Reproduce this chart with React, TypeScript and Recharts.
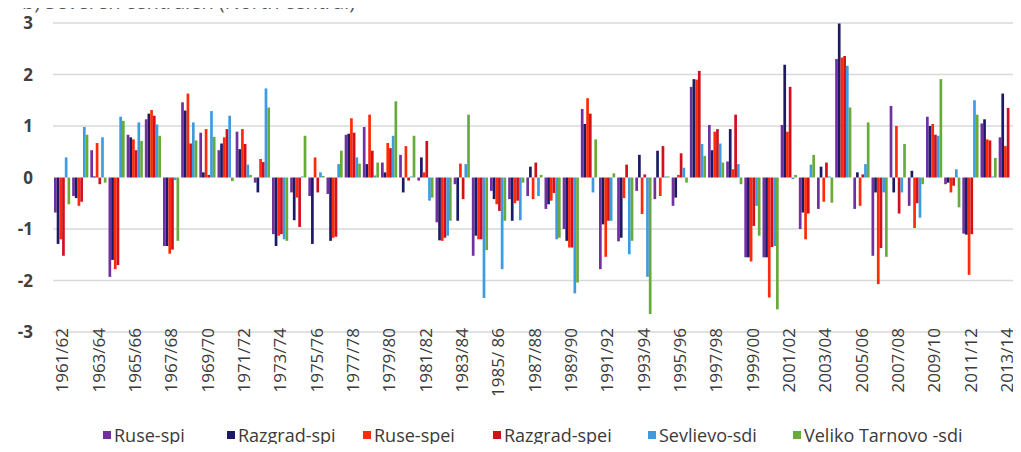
import { BarChart, Bar, XAxis, YAxis, CartesianGrid } from "recharts";

const seasons = [
  "1961/62", "1962/63", "1963/64", "1964/65", "1965/66", "1966/67", "1967/68", "1968/69",
  "1969/70", "1970/71", "1971/72", "1972/73", "1973/74", "1974/75", "1975/76", "1976/77",
  "1977/78", "1978/79", "1979/80", "1980/81", "1981/82", "1982/83", "1983/84", "1984/85",
  "1985/ 86", "1986/87", "1987/88", "1988/89", "1989/90", "1990/91", "1991/92", "1992/93",
  "1993/94", "1994/95", "1995/96", "1996/97", "1997/98", "1998/99", "1999/00", "2000/01",
  "2001/02", "2002/03", "2003/04", "2004/05", "2005/06", "2006/07", "2007/08", "2008/09",
  "2009/10", "2010/11", "2011/12", "2012/13", "2013/14", "2014/15",
];

const ruseSpi = [
  -0.68, -0.36, 0.53, -1.93, 0.83, 1.13, -1.33, 1.46, 0.87, 0.53, 0.89, -0.1, -1.1, -0.29,
  -0.36, -0.32, 0.83, 0.98, 0.29, 0.44, -0.06, -0.87, -0.13, -1.52, -0.26, -0.42, -0.36,
  -0.61, -1.0, 1.33, -1.78, -1.24, -0.26, -0.42, -0.55, 1.76, 1.02, 0.31, -1.55, -1.55,
  1.02, -1.0, -0.61, 2.3, -0.61, -1.52, 1.39, -0.55, 1.18, -0.13, -1.09, 1.05, 0.78, 1.77,
];

const razgradSpi = [
  -1.29, -0.4, 0.02, -1.6, 0.78, 1.24, -1.33, 1.3, 0.1, 0.66, 0.55, -0.29, -1.33, -0.83,
  -1.29, -1.23, 0.85, 0.26, 0.1, -0.29, 0.39, -1.22, -0.84, -1.13, -0.42, -0.84, 0.21,
  -0.52, -1.23, 1.04, -0.91, -1.17, 0.44, 0.52, -0.39, 1.91, 0.53, 0.94, -1.55, -1.55,
  2.19, -0.68, 0.21, 2.99, 0.1, -0.29, -0.29, 0.13, 1.0, -0.1, -1.11, 1.13, 1.63, 1.4,
];

const ruseSpei = [
  -1.2, -0.55, 0.67, -1.78, 0.74, 1.31, -1.48, 1.63, 0.94, 0.78, 0.94, 0.36, -1.13, -0.39,
  0.39, -1.17, 1.15, 1.22, 0.67, 0.61, 0.1, -1.23, 0.27, -1.2, -0.52, -0.5, -0.42, -0.45,
  -1.36, 1.54, -1.54, -0.4, -0.71, -0.36, 0.05, 1.9, 0.89, 0.16, -1.63, -2.33, 0.89, -1.2,
  -0.47, 2.33, -0.55, -2.07, 1.0, -0.98, 1.04, -0.29, -1.89, 0.74, 0.61, 1.5,
];

const razgradSpei = [
  -1.52, -0.47, -0.13, -1.7, 0.53, 1.2, -1.4, 0.66, 0.05, 0.94, 0.65, 0.3, -1.1, -0.96,
  -0.29, -1.15, 0.87, 0.52, 0.57, -0.06, 0.71, -1.17, -0.42, -1.2, -0.65, -0.45, 0.29,
  -0.3, -1.36, 1.24, -0.84, 0.25, 0.06, 0.61, 0.47, 2.07, 0.94, 1.22, -0.94, -1.35, 1.76,
  -0.7, 0.29, 2.36, 0.06, -1.37, -0.7, -0.5, 0.83, -0.16, -1.1, 0.72, 1.35, 1.3,
];

const sevlievoSdi = [
  0.39, 0.98, 0.78, 1.18, 1.07, 1.03, -0.05, 1.07, 1.29, 1.2, 0.25, 1.73, -1.2, 0.02, 0.1,
  0.26, 0.39, 0.04, 0.81, 0.02, -0.45, -1.13, 0.26, -2.34, -1.78, -0.83, -0.36, -1.2,
  -2.25, -0.29, -0.84, -1.49, -1.93, 0.02, 0.19, 0.65, 0.66, 0.26, -0.55, -1.33, -0.03,
  0.25, 0.02, 2.17, 0.26, -0.29, -0.29, -0.78, 0.81, 0.16, 1.5, 0.02, 0.0, 1.0,
];

const velikoTarnovoSdi = [
  -0.52, 0.83, -0.1, 1.1, 0.71, 0.81, -1.23, 0.72, 0.79, -0.07, 0.05, 1.36, -1.23, 0.81,
  0.03, 0.52, 0.27, 0.29, 1.48, 0.81, -0.39, -0.84, 1.22, -1.41, -0.84, -0.1, 0.05, -1.17,
  -2.04, 0.74, 0.08, -1.23, -2.65, 0.02, -0.1, 0.42, 0.29, -0.13, -1.13, -2.56, 0.05, 0.44,
  -0.49, 1.36, 1.07, -1.54, 0.65, -0.13, 1.91, -0.58, 1.22, 0.38, 0.0, 1.2,
];

const yTicks = [-3, -2, -1, 0, 1, 2, 3];

const series = [
  { key: "ruseSpi", name: "Ruse-spi", color: "#7030a0" },
  { key: "razgradSpi", name: "Razgrad-spi", color: "#1c1a66" },
  { key: "ruseSpei", name: "Ruse-spei", color: "#ff2a08" },
  { key: "razgradSpei", name: "Razgrad-spei", color: "#d0101a" },
  { key: "sevlievoSdi", name: "Sevlievo-sdi", color: "#3f9be0" },
  { key: "velikoTarnovoSdi", name: "Veliko Tarnovo -sdi", color: "#68ab3a" },
];

const data = seasons.map((season, i) => ({
  season,
  ruseSpi: ruseSpi[i],
  razgradSpi: razgradSpi[i],
  ruseSpei: ruseSpei[i],
  razgradSpei: razgradSpei[i],
  sevlievoSdi: sevlievoSdi[i],
  velikoTarnovoSdi: velikoTarnovoSdi[i],
}));

const FONT = "'Open Sans', 'Noto Sans', sans-serif";
const legendLeft = [103, 227, 363, 493, 648, 793];

function SeasonTick({ x, y, payload }: any) {
  return (
    <g transform={`translate(${x},${y - 12})`}>
      <text
        transform="rotate(-90)"
        textAnchor="end"
        dy="0.36em"
        fontSize={17}
        fontFamily={FONT}
        fill="#3a3a3a"
      >
        {payload.value}
      </text>
    </g>
  );
}

function ValueTick({ y, payload }: any) {
  return (
    <text
      x={33}
      y={y}
      dy="0.36em"
      textAnchor="end"
      fontSize={17}
      fontWeight={700}
      fontFamily={FONT}
      fill="#404040"
    >
      {payload.value}
    </text>
  );
}

export default function App() {
  return (
    <div
      style={{
        margin: -8,
        width: 1021,
        height: 452,
        overflow: "hidden",
        position: "relative",
        background: "#fff",
      }}
    >
      <div style={{ position: "absolute", left: 0, top: 0 }}>
        <BarChart
          width={1049}
          height={452}
          data={data}
          margin={{ top: 23, right: 15, left: 0, bottom: 0 }}
          barGap={0}
        >
          <CartesianGrid
            vertical={false}
            horizontalValues={[-3, -2, -1, 1, 2, 3]}
            stroke="#d9d9d9"
            strokeWidth={1.5}
          />
          <XAxis
            dataKey="season"
            interval={1}
            height={120}
            tickLine={false}
            axisLine={false}
            tick={<SeasonTick />}
          />
          <YAxis
            domain={[-3, 3]}
            ticks={yTicks}
            width={53}
            tickLine={false}
            axisLine={false}
            tick={<ValueTick />}
          />
          {series.map((s) => (
            <Bar
              key={s.key}
              dataKey={s.key}
              name={s.name}
              fill={s.color}
              barSize={2.7}
              isAnimationActive={false}
            />
          ))}
        </BarChart>
      </div>

      {/* heading sits partly above the top edge */}
      <div
        style={{
          position: "absolute",
          left: 22,
          top: -10,
          fontFamily: FONT,
          fontSize: 20,
          lineHeight: "24px",
          color: "#555",
          whiteSpace: "nowrap",
        }}
      >
        b) Severen centralen (North central)
      </div>

      {series.map((s, i) => (
        <div
          key={s.key}
          style={{
            position: "absolute",
            left: legendLeft[i],
            top: 425,
            height: 20,
            display: "flex",
            alignItems: "center",
            fontFamily: FONT,
            fontSize: 18,
            color: "#3a3a3a",
            whiteSpace: "nowrap",
            lineHeight: "20px",
          }}
        >
          <span
            style={{
              display: "inline-block",
              width: 8,
              height: 8,
              background: s.color,
              marginRight: 3,
            }}
          />
          {s.name}
        </div>
      ))}
    </div>
  );
}
